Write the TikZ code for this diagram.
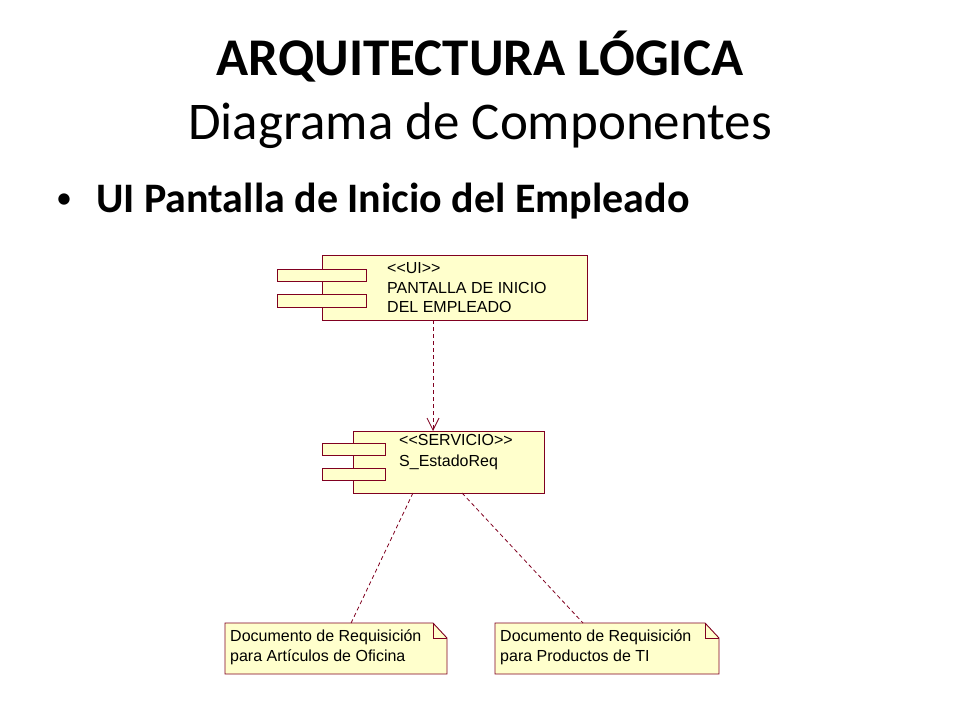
\documentclass[tikz,border=0pt]{standalone}
\usepackage{fontspec}
\setmainfont{Carlito}
\newfontfamily\diafont{Liberation Sans}
\usetikzlibrary{arrows.meta,calc}
\definecolor{roseline}{RGB}{128,0,32}
\definecolor{rosefill}{RGB}{255,255,204}
\tikzset{
  compbox/.style={draw=roseline, fill=rosefill, line width=0.9pt, inner sep=0pt, outer sep=0pt, rectangle},
  notebox/.style={inner sep=0pt, outer sep=0pt, rectangle},
  notepath/.style={draw=roseline, fill=rosefill, line width=0.9pt, line join=miter},
  diatext/.style={font=\diafont\fontsize{16}{19}\selectfont, inner sep=0pt, anchor=base west, text=black},
  deplink/.style={draw=roseline, line width=0.8pt, dash pattern=on 4pt off 3pt},
  titlefont/.style={font=\fontsize{52}{60}\selectfont, inner sep=0pt, anchor=base},
}
\begin{document}
\begin{tikzpicture}[x=1pt,y=-1pt]
\fill[white] (0,0) rectangle (960,720);
\useasboundingbox (0,0) rectangle (960,720);

% titles
\node[titlefont, font=\fontsize{53}{60}\selectfont\bfseries] (title1) at (480,75) {ARQUITECTURA LÓGICA};
\node[titlefont, font=\fontsize{53}{60}\selectfont] (title2) at (480,139) {Diagrama de Componentes};
\node[font=\fontsize{32}{38}\selectfont, inner sep=0pt, anchor=base] (bullet) at (64,208) {•};
\node[font=\fontsize{42}{48}\selectfont\bfseries, inner sep=0pt, anchor=base west] (bulltext) at (96,212) {UI Pantalla de Inicio del Empleado};

% UI component
\node[compbox, minimum width=265pt, minimum height=65pt] (ui) at (454.5,287.5) {};
\node[compbox, minimum width=89pt, minimum height=12pt] (uitab1) at (321.5,275) {};
\node[compbox, minimum width=89pt, minimum height=13pt] (uitab2) at (321.5,300.5) {};
\node[diatext] (uil1) at (387,273) {<{}<UI>{}>};
\node[diatext] (uil2) at (387,293) {PANTALLA DE INICIO};
\node[diatext] (uil3) at (387,312) {DEL EMPLEADO};

% Service component
\node[compbox, minimum width=191pt, minimum height=62pt] (srv) at (448.5,462) {};
\node[compbox, minimum width=63pt, minimum height=12pt] (srvtab1) at (353.5,449) {};
\node[compbox, minimum width=63pt, minimum height=12pt] (srvtab2) at (353.5,474) {};
\node[diatext] (srvl1) at (399,445) {<{}<SERVICIO>{}>};
\node[diatext] (srvl2) at (399,466) {S\_EstadoReq};

% dependency arrow
\draw[deplink, -{Straight Barb[length=12pt,width=12pt,line width=0.8pt]}] ([xshift=-21.5pt]ui.south) -- ([xshift=-15.5pt]srv.north);

% notes
\node[notebox, minimum width=222pt, minimum height=51pt] (n1) at (336,648.5) {};
\node[notebox, minimum width=224pt, minimum height=51pt] (n2) at (607,648.5) {};
\foreach \n in {n1,n2}{
  \draw[notepath] (\n.north west) -- ([xshift=-14pt]\n.north east) -- ([yshift=-15pt]\n.north east) -- (\n.south east) -- (\n.south west) -- cycle;
  \draw[draw=roseline, line width=0.9pt] ([xshift=-14pt]\n.north east) |- ([yshift=-15pt]\n.north east);
}
\node[diatext] (n1l1) at (230,641) {Documento de Requisición};
\node[diatext] (n1l2) at (230,661) {para Artículos de Oficina};
\node[diatext] (n2l1) at (500,641) {Documento de Requisición};
\node[diatext] (n2l2) at (500,661) {para Productos de TI};

% note links
\draw[deplink] ($(srv.south west)!0.314!(srv.south east)$) -- ($(n1.north west)!0.568!(n1.north east)$);
\draw[deplink] ($(srv.south west)!0.571!(srv.south east)$) -- ($(n2.north west)!0.393!(n2.north east)$);
\end{tikzpicture}
\end{document}
